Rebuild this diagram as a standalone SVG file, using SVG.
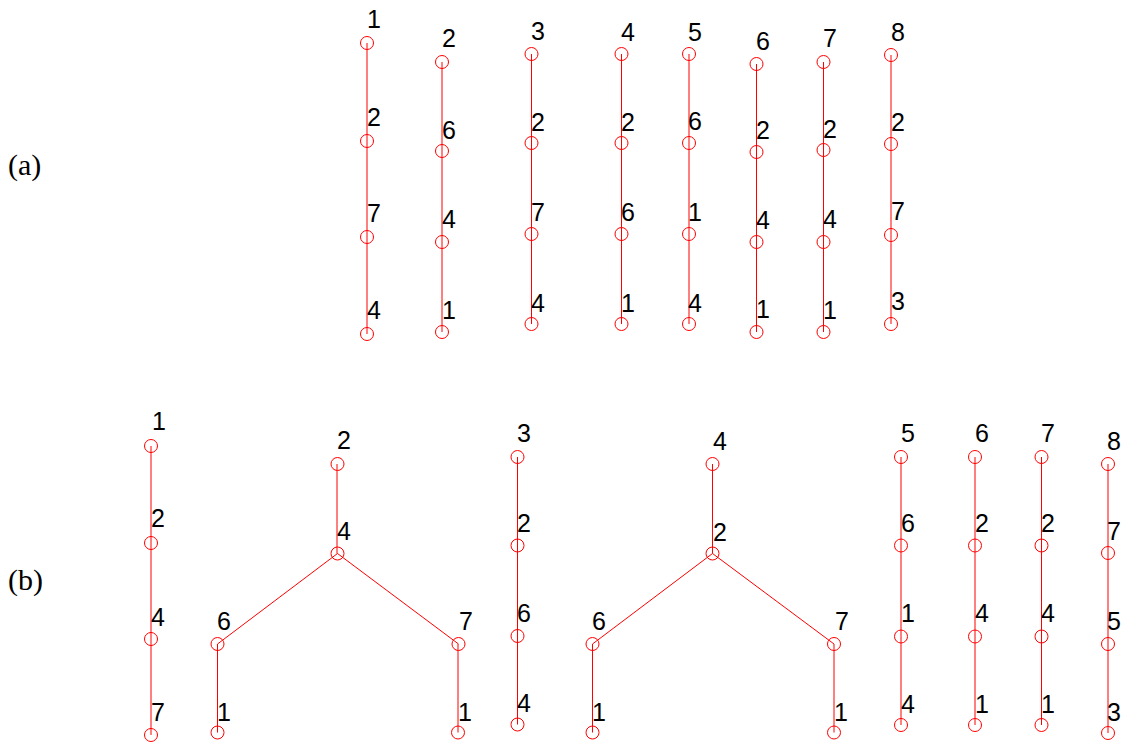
<svg xmlns="http://www.w3.org/2000/svg" width="1126" height="742" viewBox="0 0 1126 742">
<style>
.bg{fill:#fff}
.e{stroke:#ff0000;stroke-width:1;fill:none}
.n circle{fill:none;stroke:#ff0000;stroke-width:1}
.n text{font-family:"Liberation Sans",Arial,sans-serif;font-size:25px;fill:#000}
.cap{font-family:"Liberation Serif","Times New Roman",serif;font-size:30px;fill:#000}
</style>
<rect class="bg" x="0" y="0" width="1126" height="742"/>
<text class="cap" x="8" y="175">(a)</text>
<text class="cap" x="8" y="590">(b)</text>
<g id="connectors">
<path class="e" d="M367 43V334"/>
<path class="e" d="M442 62V332"/>
<path class="e" d="M531.5 54V324"/>
<path class="e" d="M621.5 54V324"/>
<path class="e" d="M689 54V324"/>
<path class="e" d="M756.5 64V332"/>
<path class="e" d="M823.5 62V332"/>
<path class="e" d="M891 55V324"/>
<path class="e" d="M151 446V735"/>
<path class="e" d="M337 464V553.5"/>
<path class="e" d="M337.5 553.5L217.5 644V732.5M337.5 553.5L458.5 644"/>
<path class="e" d="M458 644V732.5"/>
<path class="e" d="M517.5 457V724.5"/>
<path class="e" d="M712.5 464V553.5L592.5 644V732.5M712.5 553.5L834 644V732.5"/>
<path class="e" d="M901 457V725"/>
<path class="e" d="M975 457V725"/>
<path class="e" d="M1041.5 457V725"/>
<path class="e" d="M1108 464V733"/>
</g>
<g id="nodes-a">
<g id="a1-1" class="n"><circle cx="367" cy="43" r="6.5"/><text x="367" y="28">1</text></g>
<g id="a1-2" class="n"><circle cx="367" cy="141" r="6.5"/><text x="367" y="125.5">2</text></g>
<g id="a1-3" class="n"><circle cx="367" cy="237" r="6.5"/><text x="367" y="222">7</text></g>
<g id="a1-4" class="n"><circle cx="367" cy="334" r="6.5"/><text x="367" y="319">4</text></g>
<g id="a2-1" class="n"><circle cx="442" cy="62" r="6.5"/><text x="442" y="47">2</text></g>
<g id="a2-2" class="n"><circle cx="442" cy="151" r="6.5"/><text x="442" y="139">6</text></g>
<g id="a2-3" class="n"><circle cx="442" cy="242" r="6.5"/><text x="442" y="228">4</text></g>
<g id="a2-4" class="n"><circle cx="442" cy="332" r="6.5"/><text x="442" y="319">1</text></g>
<g id="a3-1" class="n"><circle cx="531.5" cy="54" r="6.5"/><text x="531" y="40">3</text></g>
<g id="a3-2" class="n"><circle cx="531.5" cy="143" r="6.5"/><text x="531" y="131">2</text></g>
<g id="a3-3" class="n"><circle cx="531.5" cy="234" r="6.5"/><text x="531" y="221">7</text></g>
<g id="a3-4" class="n"><circle cx="531.5" cy="324" r="6.5"/><text x="531" y="312">4</text></g>
<g id="a4-1" class="n"><circle cx="621.5" cy="54" r="6.5"/><text x="621" y="41">4</text></g>
<g id="a4-2" class="n"><circle cx="621.5" cy="143" r="6.5"/><text x="621" y="131">2</text></g>
<g id="a4-3" class="n"><circle cx="621.5" cy="234" r="6.5"/><text x="621" y="221">6</text></g>
<g id="a4-4" class="n"><circle cx="621.5" cy="324" r="6.5"/><text x="621" y="312">1</text></g>
<g id="a5-1" class="n"><circle cx="689" cy="54" r="6.5"/><text x="688" y="41">5</text></g>
<g id="a5-2" class="n"><circle cx="689" cy="143" r="6.5"/><text x="688" y="130">6</text></g>
<g id="a5-3" class="n"><circle cx="689" cy="234" r="6.5"/><text x="688" y="221">1</text></g>
<g id="a5-4" class="n"><circle cx="689" cy="324" r="6.5"/><text x="688" y="312">4</text></g>
<g id="a6-1" class="n"><circle cx="756.5" cy="64" r="6.5"/><text x="756" y="50">6</text></g>
<g id="a6-2" class="n"><circle cx="756.5" cy="152" r="6.5"/><text x="756" y="139">2</text></g>
<g id="a6-3" class="n"><circle cx="756.5" cy="242" r="6.5"/><text x="756" y="229">4</text></g>
<g id="a6-4" class="n"><circle cx="756.5" cy="332" r="6.5"/><text x="756" y="318">1</text></g>
<g id="a7-1" class="n"><circle cx="823.5" cy="62" r="6.5"/><text x="823" y="47">7</text></g>
<g id="a7-2" class="n"><circle cx="823.5" cy="150" r="6.5"/><text x="823" y="138">2</text></g>
<g id="a7-3" class="n"><circle cx="823.5" cy="242" r="6.5"/><text x="823" y="228">4</text></g>
<g id="a7-4" class="n"><circle cx="823.5" cy="332" r="6.5"/><text x="823" y="319">1</text></g>
<g id="a8-1" class="n"><circle cx="891" cy="55" r="6.5"/><text x="891" y="41">8</text></g>
<g id="a8-2" class="n"><circle cx="891" cy="144" r="6.5"/><text x="891" y="131">2</text></g>
<g id="a8-3" class="n"><circle cx="891" cy="235" r="6.5"/><text x="891" y="220">7</text></g>
<g id="a8-4" class="n"><circle cx="891" cy="324" r="6.5"/><text x="891" y="310">3</text></g>
</g>
<g id="nodes-b">
<g id="b1-1" class="n"><circle cx="151" cy="446" r="6.5"/><text x="152" y="429.5">1</text></g>
<g id="b1-2" class="n"><circle cx="151" cy="543" r="6.5"/><text x="151" y="527">2</text></g>
<g id="b1-3" class="n"><circle cx="151" cy="639" r="6.5"/><text x="151" y="626">4</text></g>
<g id="b1-4" class="n"><circle cx="151" cy="735" r="6.5"/><text x="151" y="721">7</text></g>
<g id="b2-1" class="n"><circle cx="337.5" cy="464" r="6.5"/><text x="337" y="449">2</text></g>
<g id="b2-2" class="n"><circle cx="337.5" cy="553.5" r="6.5"/><text x="337" y="540">4</text></g>
<g id="b2-3" class="n"><circle cx="217.5" cy="644" r="6.5"/><text x="217" y="630">6</text></g>
<g id="b2-4" class="n"><circle cx="458.5" cy="644" r="6.5"/><text x="459" y="630">7</text></g>
<g id="b2-5" class="n"><circle cx="217.5" cy="732.5" r="6.5"/><text x="217" y="721">1</text></g>
<g id="b2-6" class="n"><circle cx="458" cy="732.5" r="6.5"/><text x="458" y="721">1</text></g>
<g id="b3-1" class="n"><circle cx="517.5" cy="457" r="6.5"/><text x="517" y="442">3</text></g>
<g id="b3-2" class="n"><circle cx="517.5" cy="545.5" r="6.5"/><text x="517" y="532">2</text></g>
<g id="b3-3" class="n"><circle cx="517.5" cy="636" r="6.5"/><text x="517" y="622">6</text></g>
<g id="b3-4" class="n"><circle cx="517.5" cy="724.5" r="6.5"/><text x="517" y="712">4</text></g>
<g id="b4-1" class="n"><circle cx="712.5" cy="464" r="6.5"/><text x="713" y="450">4</text></g>
<g id="b4-2" class="n"><circle cx="712.5" cy="553.5" r="6.5"/><text x="713" y="541">2</text></g>
<g id="b4-3" class="n"><circle cx="592.5" cy="644" r="6.5"/><text x="592" y="630">6</text></g>
<g id="b4-4" class="n"><circle cx="834" cy="644" r="6.5"/><text x="835" y="630">7</text></g>
<g id="b4-5" class="n"><circle cx="592.5" cy="732.5" r="6.5"/><text x="592" y="721">1</text></g>
<g id="b4-6" class="n"><circle cx="834" cy="732.5" r="6.5"/><text x="834" y="721">1</text></g>
<g id="b5-1" class="n"><circle cx="901" cy="457" r="6.5"/><text x="901" y="442">5</text></g>
<g id="b5-2" class="n"><circle cx="901" cy="545.5" r="6.5"/><text x="901" y="532">6</text></g>
<g id="b5-3" class="n"><circle cx="901" cy="636.5" r="6.5"/><text x="901" y="622">1</text></g>
<g id="b5-4" class="n"><circle cx="901" cy="725" r="6.5"/><text x="901" y="713">4</text></g>
<g id="b6-1" class="n"><circle cx="975" cy="457" r="6.5"/><text x="975" y="442">6</text></g>
<g id="b6-2" class="n"><circle cx="975" cy="545.5" r="6.5"/><text x="975" y="532">2</text></g>
<g id="b6-3" class="n"><circle cx="975" cy="636.5" r="6.5"/><text x="975" y="622">4</text></g>
<g id="b6-4" class="n"><circle cx="975" cy="725" r="6.5"/><text x="975" y="713">1</text></g>
<g id="b7-1" class="n"><circle cx="1041.5" cy="457" r="6.5"/><text x="1041" y="442">7</text></g>
<g id="b7-2" class="n"><circle cx="1041.5" cy="545.5" r="6.5"/><text x="1041" y="532">2</text></g>
<g id="b7-3" class="n"><circle cx="1041.5" cy="636.5" r="6.5"/><text x="1041" y="622">4</text></g>
<g id="b7-4" class="n"><circle cx="1041.5" cy="725" r="6.5"/><text x="1041" y="713">1</text></g>
<g id="b8-1" class="n"><circle cx="1108" cy="464" r="6.5"/><text x="1107" y="450">8</text></g>
<g id="b8-2" class="n"><circle cx="1108" cy="553" r="6.5"/><text x="1107" y="540">7</text></g>
<g id="b8-3" class="n"><circle cx="1108" cy="644" r="6.5"/><text x="1107" y="630">5</text></g>
<g id="b8-4" class="n"><circle cx="1108" cy="733" r="6.5"/><text x="1107" y="721">3</text></g>
</g>
</svg>
